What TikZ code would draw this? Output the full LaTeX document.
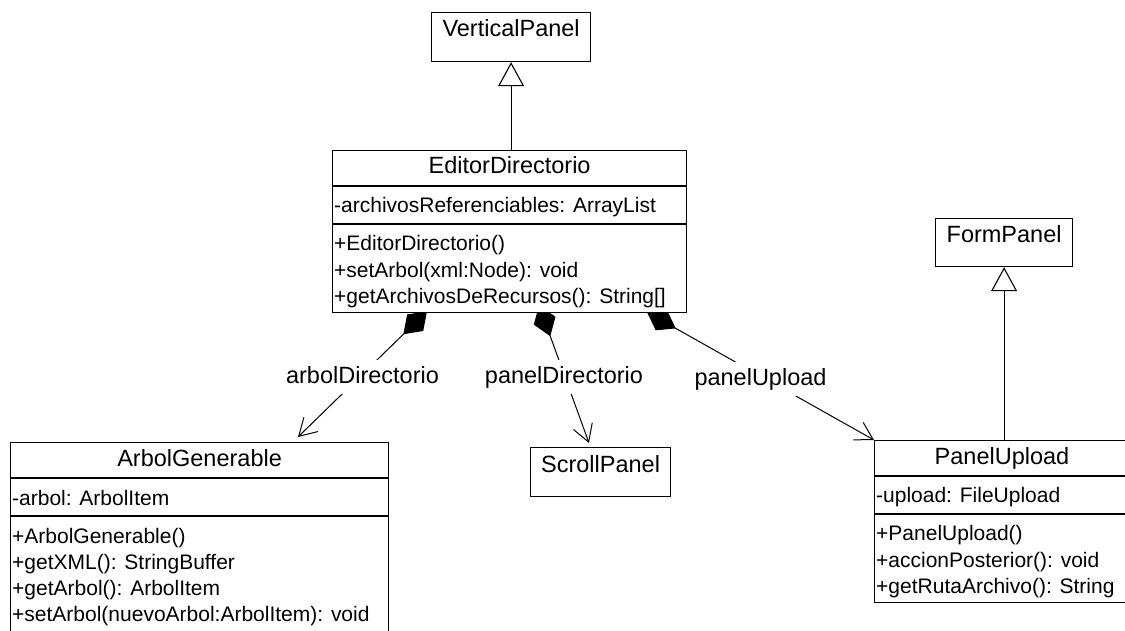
\documentclass[tikz,border=0pt]{standalone}
\usepackage{fontspec}
\setmainfont{Liberation Sans}
\usetikzlibrary{arrows.meta,calc,backgrounds}
\tikzset{
  cls/.style={draw, fill=white, line width=1.2pt, rectangle, inner sep=0pt, anchor=north west},
  sepline/.style={line width=1.2pt},
  ttl/.style={anchor=base, inner sep=0pt, font=\fontsize{23.5}{28}\selectfont},
  mbr/.style={anchor=base west, inner sep=0pt, font=\fontsize{21}{25}\selectfont},
  comp/.style={line width=1pt, {Diamond[length=33pt,width=23pt]}-{Straight Barb[length=17pt,width=20pt,line width=1pt]}},
  inh/.style={line width=1.1pt, -{Triangle[open,fill=white,length=24pt,width=26pt,line width=1.1pt]}},
  role/.style={fill=white, inner xsep=4pt, inner ysep=6pt, text height=17pt, text depth=5pt, yshift=-3pt, font=\fontsize{23.5}{28}\selectfont},
}
\begin{document}
\begin{tikzpicture}[x=1pt,y=-1pt]
\clip (0,0) rectangle (1125,631);

% VerticalPanel
\node[cls, minimum width=159pt, minimum height=49pt] (vp) at (431,12) {};
\node[ttl] (vpt) at ($(vp.north)+(0,25)$) {VerticalPanel};

% EditorDirectorio
\node[cls, minimum width=354pt, minimum height=162pt] (ed) at (332,150) {};
\node[ttl] (edt) at ($(ed.north)+(0,24)$) {EditorDirectorio};
\draw[sepline] ($(ed.north west)+(0,36)$) -- ($(ed.north east)+(0,36)$);
\node[mbr] (ed1) at ($(ed.north west)+(2,63)$) {-archivosReferenciables: ArrayList};
\draw[sepline] ($(ed.north west)+(0,74)$) -- ($(ed.north east)+(0,74)$);
\node[mbr] (ed2) at ($(ed.north west)+(2,101)$) {+EditorDirectorio()};
\node[mbr] (ed3) at ($(ed.north west)+(2,127)$) {+setArbol(xml:Node): void};
\node[mbr] (ed4) at ($(ed.north west)+(2,153)$) {+getArchivosDeRecursos(): String[]};

% FormPanel
\node[cls, minimum width=137pt, minimum height=48pt] (fp) at (935,218) {};
\node[ttl] (fpt) at ($(fp.north)+(0,25)$) {FormPanel};

% ArbolGenerable
\node[cls, minimum width=378pt, minimum height=200pt] (ag) at (10,442) {};
\node[ttl] (agt) at ($(ag.north)+(0,24)$) {ArbolGenerable};
\draw[sepline] ($(ag.north west)+(0,36)$) -- ($(ag.north east)+(0,36)$);
\node[mbr] (ag1) at ($(ag.north west)+(2,63)$) {-arbol: ArbolItem};
\draw[sepline] ($(ag.north west)+(0,74)$) -- ($(ag.north east)+(0,74)$);
\node[mbr] (ag2) at ($(ag.north west)+(2,101)$) {+ArbolGenerable()};
\node[mbr] (ag3) at ($(ag.north west)+(2,127)$) {+getXML(): StringBuffer};
\node[mbr] (ag4) at ($(ag.north west)+(2,153)$) {+getArbol(): ArbolItem};
\node[mbr] (ag5) at ($(ag.north west)+(2,179)$) {+setArbol(nuevoArbol:ArbolItem): void};

% ScrollPanel
\node[cls, minimum width=140pt, minimum height=49pt] (sp) at (530,447) {};
\node[ttl] (spt) at ($(sp.north)+(0,25)$) {ScrollPanel};

% PanelUpload
\node[cls, minimum width=256pt, minimum height=162pt] (pu) at (874,440) {};
\node[ttl] (put) at ($(pu.north west)+(128,24)$) {PanelUpload};
\draw[sepline] ($(pu.north west)+(0,36)$) -- ($(pu.north east)+(0,36)$);
\node[mbr] (pu1) at ($(pu.north west)+(2,62)$) {-upload: FileUpload};
\draw[sepline] ($(pu.north west)+(0,74)$) -- ($(pu.north east)+(0,74)$);
\node[mbr] (pu2) at ($(pu.north west)+(2,100)$) {+PanelUpload()};
\node[mbr] (pu3) at ($(pu.north west)+(2,127)$) {+accionPosterior(): void};
\node[mbr] (pu4) at ($(pu.north west)+(2,153)$) {+getRutaArchivo(): String};

\begin{pgfonlayer}{background}
  \fill[white] (0,0) rectangle (1125,631);
  % generalizations
  \draw[inh] (vp.south |- ed.north) -- (vp.south);
  \draw[inh] (fp.south |- pu.north) -- (fp.south);
  % compositions
  \coordinate (s1) at ($(ed.south west)+(95,-2)$);
  \coordinate (t1) at ($(ag.north west)+(288,-5)$);
  \coordinate (s2) at ($(ed.south west)+(207,-8)$);
  \coordinate (t2) at ($(sp.north west)+(59,-4)$);
  \coordinate (s3) at ($(ed.south west)+(315,-1)$);
  \coordinate (t3) at (pu.north west);
  \draw[comp] (s1) -- node[role] (l1) {arbolDirectorio} (t1);
  \draw[comp] (s2) -- node[role] (l2) {panelDirectorio} (t2);
  \draw[comp] (s3) -- node[role] (l3) {panelUpload} (t3);
\end{pgfonlayer}
\end{tikzpicture}
\end{document}
